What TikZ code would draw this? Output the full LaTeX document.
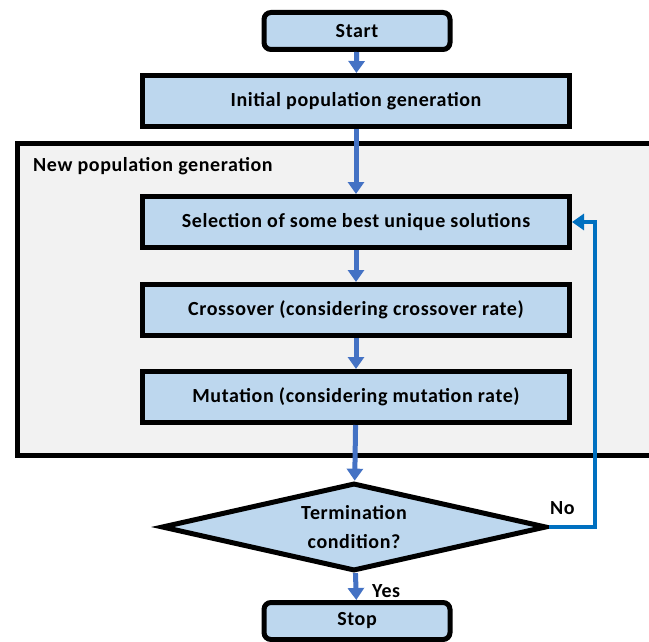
\documentclass[tikz,border=0pt]{standalone}
\usepackage{fontspec}
\setmainfont{Carlito}[LetterSpace=3]
\usetikzlibrary{arrows.meta,shapes.geometric}
\definecolor{boxfill}{HTML}{BDD7EE}
\definecolor{flowblue}{HTML}{4472C4}
\definecolor{loopblue}{HTML}{0070C0}
\definecolor{regionfill}{HTML}{F2F2F2}
\begin{document}
\begin{tikzpicture}[x=1pt,y=-1pt,
			box/.style={rectangle,draw=black,fill=boxfill,line width=5pt,inner sep=0pt,
				minimum width=427pt,minimum height=51pt,font=\fontsize{20}{24}\selectfont\bfseries},
			term/.style={box,rounded corners=7pt,minimum width=186pt,minimum height=37pt},
			decision/.style={diamond,draw=black,fill=boxfill,line width=5pt,inner sep=0pt,aspect=4,
				minimum width=385pt,minimum height=88pt,align=center,font=\fontsize{20}{29}\selectfont\bfseries},
			tag/.style={font=\fontsize{20}{24}\selectfont\bfseries,inner sep=0pt},
			flow/.style={draw=flowblue,line width=5pt,-{Triangle[width=16pt,length=12pt]}},
			back/.style={draw=loopblue,line width=4pt,-{Triangle[width=16pt,length=12pt]}}]
		\clip (0,0) rectangle (649,642);
		\fill[white] (0,0) rectangle (649,642);
		% region of the new population
		\path[draw=black,fill=regionfill,line width=5pt] (17,144) rectangle (680,455);
		\path 	(33,166) node (newpop) [tag,anchor=west] {New population generation};
		\path 	(357,31) 	node (start) [term] {Start}
		        (356,101) 	node (init) [box] {Initial population generation}
		        (356,222) 	node (sel) [box] {Selection of some best unique solutions}
		        (356,310) 	node (cross) [box] {Crossover (considering crossover rate)}
		        (356,397) 	node (mut) [box] {Mutation (considering mutation rate)}
		        (354,527) 	node (term) [decision] {Termination\\condition?}
		        (357,621) 	node (stop) [term] {Stop};
		\coordinate (turn) at (595,527);
		\path 	(550,508) node (no) [tag,anchor=west] {No}
		        (372,591) node (yes) [tag,anchor=west] {Yes};
		\draw [flow] (start) -- (init);
		\draw [flow] (init) -- (sel);
		\draw [flow] (sel) -- (cross);
		\draw [flow] (cross) -- (mut);
		\draw [flow] (mut) -- (term);
		\draw [flow] (term) -- (stop);
		\draw [back] (term.east) -- (turn) |- (sel.east);
	\end{tikzpicture}
\end{document}
